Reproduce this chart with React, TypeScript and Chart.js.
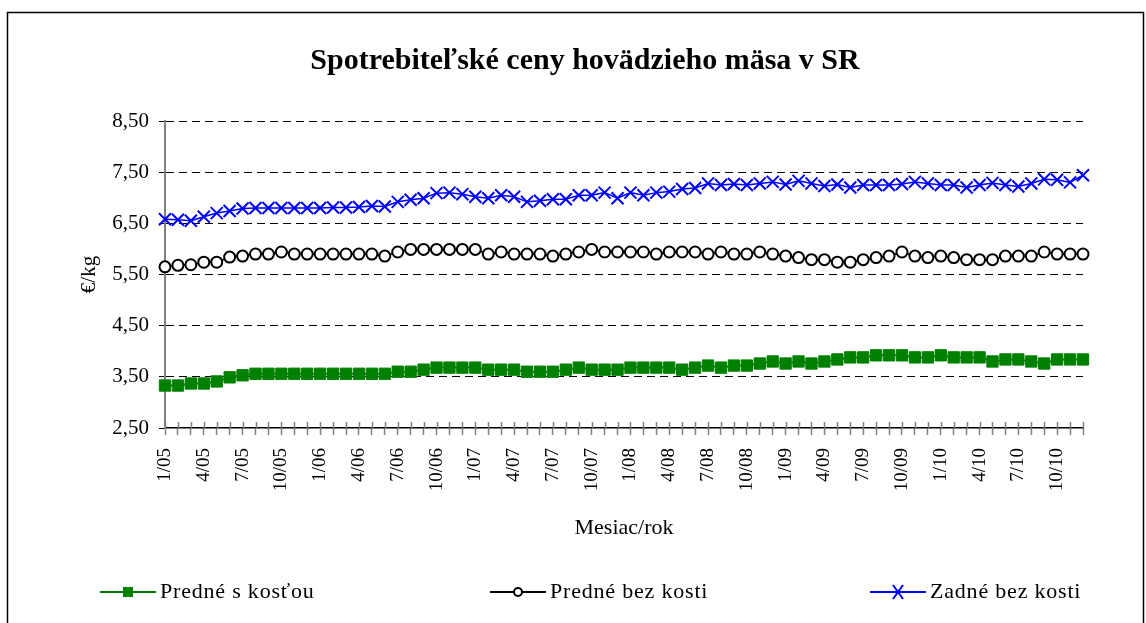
import { useEffect, useRef } from 'react';
import { Chart, registerables } from 'chart.js';

Chart.register(...registerables);

const TITLE = 'Spotrebiteľské ceny hovädzieho mäsa v SR';
const Y_TITLE = '€/kg';
const X_TITLE = 'Mesiac/rok';

const YEARS = ['05', '06', '07', '08', '09', '10'];
const MONTHS = ['1', '2', '3', '4', '5', '6', '7', '8', '9', '10', '11', '12'];
const CATEGORIES = YEARS.flatMap((y) => MONTHS.map((m) => `${m}/${y}`));
const LABEL_EVERY = 3;

const Y_MIN = 2.5;
const Y_MAX = 8.5;
const Y_STEP = 1;

const SERIES_NAMES = ['Predné s kosťou', 'Predné bez kosti', 'Zadné bez kosti'];

const PREDNE_S_KOSTOU = [
  3.33, 3.33, 3.37, 3.37, 3.41, 3.49, 3.53, 3.56, 3.56, 3.56, 3.56, 3.56,
  3.56, 3.56, 3.56, 3.56, 3.56, 3.56, 3.60, 3.60, 3.64, 3.68, 3.68, 3.68,
  3.68, 3.64, 3.64, 3.64, 3.60, 3.60, 3.60, 3.64, 3.68, 3.64, 3.64, 3.64,
  3.68, 3.68, 3.68, 3.68, 3.64, 3.68, 3.72, 3.68, 3.72, 3.72, 3.76, 3.80,
  3.76, 3.80, 3.76, 3.80, 3.84, 3.88, 3.88, 3.92, 3.92, 3.92, 3.88, 3.88,
  3.92, 3.88, 3.88, 3.88, 3.80, 3.84, 3.84, 3.80, 3.76, 3.84, 3.84, 3.84,
];

const PREDNE_BEZ_KOSTI = [
  5.65, 5.68, 5.69, 5.74, 5.74, 5.84, 5.86, 5.90, 5.90, 5.94, 5.90, 5.90,
  5.90, 5.90, 5.90, 5.90, 5.90, 5.86, 5.94, 5.99, 5.99, 5.99, 5.99, 5.99,
  5.99, 5.90, 5.94, 5.90, 5.90, 5.90, 5.86, 5.90, 5.94, 5.99, 5.94, 5.94,
  5.94, 5.94, 5.90, 5.94, 5.94, 5.94, 5.90, 5.94, 5.90, 5.90, 5.94, 5.90,
  5.86, 5.83, 5.79, 5.79, 5.74, 5.74, 5.79, 5.83, 5.86, 5.94, 5.86, 5.83,
  5.86, 5.83, 5.79, 5.79, 5.79, 5.86, 5.86, 5.86, 5.94, 5.90, 5.90, 5.90,
];

const ZADNE_BEZ_KOSTI = [
  6.58, 6.57, 6.55, 6.63, 6.70, 6.74, 6.79, 6.80, 6.80, 6.80, 6.80, 6.80,
  6.80, 6.81, 6.81, 6.82, 6.84, 6.83, 6.92, 6.96, 6.99, 7.09, 7.10, 7.07,
  7.02, 6.99, 7.05, 7.02, 6.92, 6.94, 6.97, 6.97, 7.05, 7.05, 7.10, 6.99,
  7.10, 7.05, 7.10, 7.12, 7.17, 7.19, 7.28, 7.25, 7.27, 7.25, 7.28, 7.31,
  7.26, 7.33, 7.28, 7.23, 7.26, 7.20, 7.25, 7.25, 7.25, 7.27, 7.31, 7.28,
  7.25, 7.25, 7.20, 7.25, 7.29, 7.25, 7.22, 7.28, 7.36, 7.35, 7.30, 7.44,
];

const GREEN = '#008000';
const BLACK = '#000000';
const BLUE = '#0000FF';
const GRAY = '#808080';
const FONT = '"Liberation Serif", "Times New Roman", serif';

const LEGEND_ITEMS = [
  { text: SERIES_NAMES[0], color: GREEN, marker: 'rect', x: 100 },
  { text: SERIES_NAMES[1], color: BLACK, marker: 'circle', x: 490 },
  { text: SERIES_NAMES[2], color: BLUE, marker: 'cross', x: 870 },
];

const decorPlugin = {
  id: 'decor',
  beforeDraw(chart: any) {
    const ctx = chart.ctx;
    ctx.save();
    ctx.fillStyle = '#ffffff';
    ctx.fillRect(0, 0, chart.width, chart.height);
    ctx.strokeStyle = BLACK;
    ctx.lineWidth = 1.5;
    ctx.strokeRect(7.5, 12.5, 1136, 640);
    ctx.fillStyle = BLACK;
    ctx.font = `bold 30px ${FONT}`;
    ctx.textAlign = 'center';
    ctx.textBaseline = 'middle';
    ctx.fillText(TITLE, 585, 61);
    ctx.restore();
  },
  afterDraw(chart: any) {
    const ctx = chart.ctx;
    const xs = chart.scales.x;
    const bottom = chart.chartArea.bottom;
    ctx.save();
    ctx.strokeStyle = GRAY;
    ctx.lineWidth = 1.5;
    for (let i = 0; i < CATEGORIES.length; i++) {
      const px = Math.round(xs.getPixelForValue(i)) + 0.5;
      ctx.beginPath();
      ctx.moveTo(px, bottom - 6);
      ctx.lineTo(px, bottom);
      ctx.stroke();
    }
    // legend
    const ly = 592;
    ctx.font = `22px ${FONT}`;
    try {
      ctx.letterSpacing = '0.8px';
    } catch (e) {
      /* ignore */
    }
    ctx.textAlign = 'left';
    ctx.textBaseline = 'middle';
    LEGEND_ITEMS.forEach((it) => {
      ctx.strokeStyle = it.color;
      ctx.lineWidth = 2;
      ctx.beginPath();
      ctx.moveTo(it.x, ly);
      ctx.lineTo(it.x + 56, ly);
      ctx.stroke();
      const cx = it.x + 28;
      if (it.marker === 'rect') {
        ctx.fillStyle = it.color;
        ctx.fillRect(cx - 5, ly - 5, 10, 10);
      } else if (it.marker === 'circle') {
        ctx.fillStyle = '#ffffff';
        ctx.beginPath();
        ctx.arc(cx, ly, 4, 0, Math.PI * 2);
        ctx.fill();
        ctx.stroke();
      } else {
        ctx.beginPath();
        ctx.moveTo(cx - 5, ly - 7);
        ctx.lineTo(cx + 5, ly + 7);
        ctx.moveTo(cx + 5, ly - 7);
        ctx.lineTo(cx - 5, ly + 7);
        ctx.stroke();
      }
      ctx.fillStyle = BLACK;
      ctx.fillText(it.text, it.x + 60, ly);
    });
    ctx.restore();
  },
};

export default function App() {
  const ref = useRef<HTMLCanvasElement | null>(null);

  useEffect(() => {
    if (!ref.current) return;
    const chart = new Chart(ref.current, {
      type: 'line',
      data: {
        labels: CATEGORIES,
        datasets: [
          {
            label: SERIES_NAMES[0],
            data: PREDNE_S_KOSTOU,
            borderColor: GREEN,
            backgroundColor: GREEN,
            borderWidth: 2,
            pointStyle: 'rect',
            pointRadius: 8,
            pointBorderWidth: 1,
            pointBorderColor: GREEN,
            pointBackgroundColor: GREEN,
            clip: false,
          },
          {
            label: SERIES_NAMES[1],
            data: PREDNE_BEZ_KOSTI,
            borderColor: BLACK,
            backgroundColor: '#ffffff',
            borderWidth: 1.5,
            pointStyle: 'circle',
            pointRadius: 5.5,
            pointBorderWidth: 2,
            pointBorderColor: BLACK,
            pointBackgroundColor: '#ffffff',
            clip: false,
          },
          {
            label: SERIES_NAMES[2],
            data: ZADNE_BEZ_KOSTI,
            borderColor: BLUE,
            backgroundColor: BLUE,
            borderWidth: 1.5,
            pointStyle: 'crossRot',
            pointRadius: 8.5,
            pointBorderWidth: 2,
            pointBorderColor: BLUE,
            clip: false,
          },
        ],
      },
      options: {
        animation: false,
        responsive: false,
        events: [],
        layout: { padding: { left: 75, top: 121, right: 63, bottom: 80 } },
        plugins: {
          legend: { display: false },
          title: { display: false },
          tooltip: { enabled: false },
        },
        scales: {
          x: {
            offset: false,
            afterFit: (s: any) => {
              s.height = 115;
            },
            grid: {
              display: true,
              drawOnChartArea: false,
              drawTicks: true,
              tickLength: 7,
              tickColor: GRAY,
              tickWidth: 1.5,
            },
            border: { display: true, color: BLACK, width: 1.5 },
            ticks: {
              autoSkip: false,
              minRotation: 90,
              maxRotation: 90,
              padding: 13,
              color: BLACK,
              font: { family: FONT, size: 19 },
              callback: (_v: any, i: number) => (i % LABEL_EVERY === 0 ? CATEGORIES[i] : ''),
            },
            title: {
              display: true,
              text: X_TITLE,
              color: BLACK,
              font: { family: FONT, size: 22 },
              padding: { top: 0, bottom: 2 },
            },
          },
          y: {
            min: Y_MIN,
            max: Y_MAX,
            afterFit: (s: any) => {
              s.width = 90;
            },
            ticks: {
              stepSize: Y_STEP,
              padding: 10,
              color: BLACK,
              font: { family: FONT, size: 21 },
              callback: (v: any) => Number(v).toFixed(2).replace('.', ','),
            },
            grid: {
              color: (c: any) => (c.tick && c.tick.value <= Y_MIN ? 'rgba(0,0,0,0)' : BLACK),
              lineWidth: 1,
              drawTicks: true,
              tickLength: 6,
              tickColor: BLACK,
            },
            border: { display: true, color: GRAY, width: 2, dash: [8, 5] },
            title: {
              display: true,
              text: Y_TITLE,
              color: BLACK,
              font: { family: FONT, size: 21 },
              padding: { top: 2, bottom: 0 },
            },
          },
        },
      },
      plugins: [decorPlugin],
    });
    return () => chart.destroy();
  }, []);

  return (
    <div style={{ position: 'fixed', left: 0, top: 0, width: 1146, height: 623, background: '#fff' }}>
      <canvas ref={ref} width={1146} height={623} style={{ display: 'block', width: 1146, height: 623 }} />
    </div>
  );
}
